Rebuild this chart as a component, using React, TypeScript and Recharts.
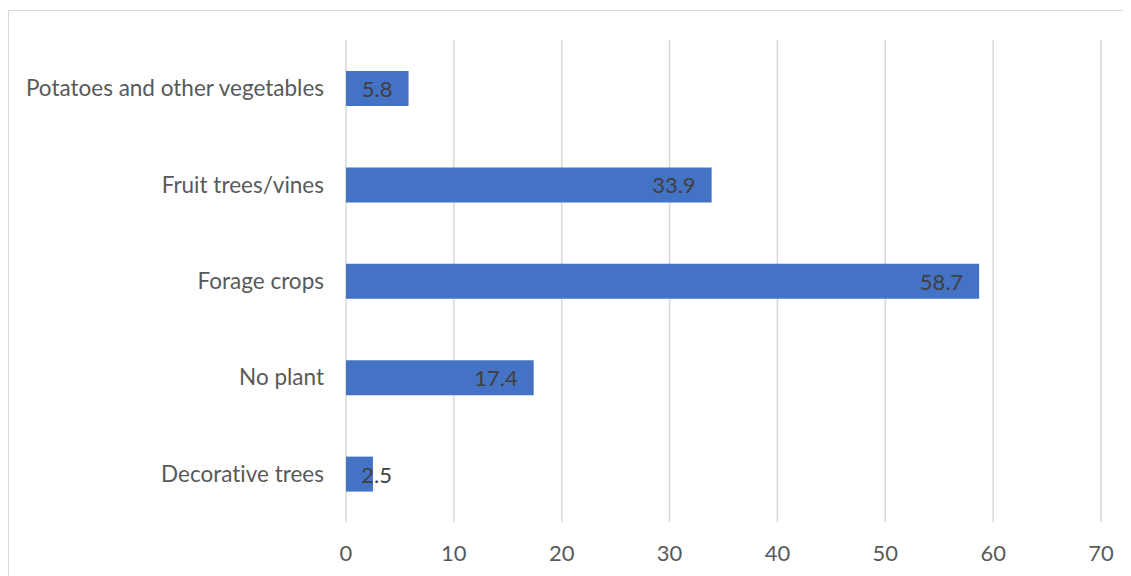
import React from 'react';
import { BarChart, Bar, XAxis, YAxis, CartesianGrid, LabelList } from 'recharts';

const categories = [
  'Potatoes and other vegetables',
  'Fruit trees/vines',
  'Forage crops',
  'No plant',
  'Decorative trees',
];
const shares = [5.8, 33.9, 58.7, 17.4, 2.5];
const xTicks = [0, 10, 20, 30, 40, 50, 60, 70];

const data = categories.map((name, i) => ({ name, value: shares[i] }));

const FONT = 'Lato, "Liberation Sans", sans-serif';
const noLigatures = { fontVariantLigatures: 'none' } as React.CSSProperties;

// value sits at the inner end of the bar, but never runs past its left edge
const ValueLabel = (props: any) => {
  const { x, y, width, height, value } = props;
  const right = Math.max(x + width - 16, x + 46);
  return (
    <text
      x={right}
      y={y + height / 2}
      textAnchor="end"
      dominantBaseline="central"
      fill="#404040"
      fontSize={22}
      fontFamily={FONT}
    >
      {value}
    </text>
  );
};

export default function App() {
  return (
    <div style={{ position: 'relative', width: 1131, height: 576, ...noLigatures }}>
      <div
        style={{
          position: 'absolute',
          left: 0,
          top: 2,
          width: 1123,
          height: 580,
          border: '1px solid #d9d9d9',
          boxSizing: 'border-box',
        }}
      />
      <div style={{ position: 'absolute', left: -8, top: -8 }}>
        <BarChart
          width={1131}
          height={576}
          data={data}
          layout="vertical"
          margin={{ top: 40, right: 30, bottom: 14, left: 0 }}
          barSize={35}
        >
          <CartesianGrid horizontal={false} stroke="#d9d9d9" strokeWidth={1.5} />
          <XAxis
            type="number"
            domain={[0, 70]}
            ticks={xTicks}
            axisLine={false}
            tickLine={false}
            height={40}
            tickMargin={17}
            tick={{ fill: '#595959', fontSize: 22, fontFamily: FONT }}
          />
          <YAxis
            type="category"
            dataKey="name"
            width={346}
            axisLine={false}
            tickLine={false}
            tickMargin={16}
            tick={{ fill: '#595959', fontSize: 22.5, fontFamily: FONT }}
          />
          <Bar dataKey="value" fill="#4472c4" isAnimationActive={false}>
            <LabelList dataKey="value" content={ValueLabel} />
          </Bar>
        </BarChart>
      </div>
    </div>
  );
}
